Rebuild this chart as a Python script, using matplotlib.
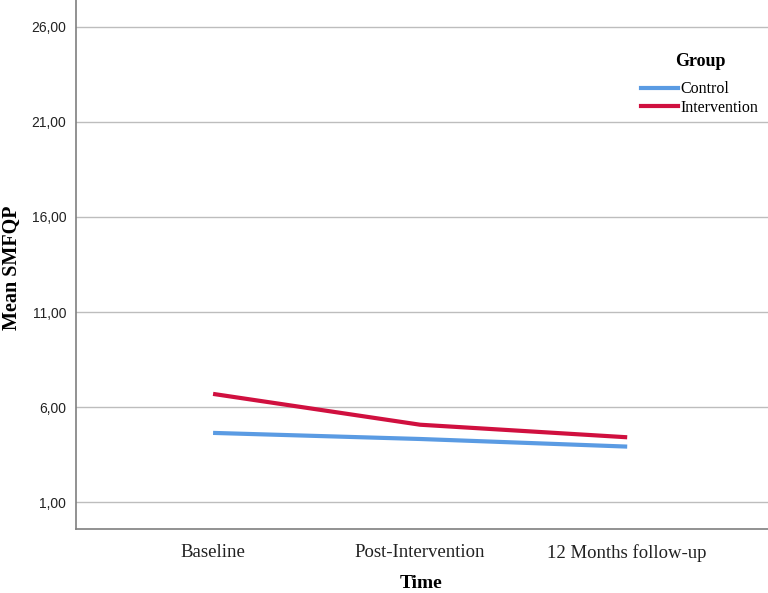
import matplotlib
matplotlib.use("Agg")
import matplotlib.pyplot as plt
from matplotlib.lines import Line2D

categories = ["Baseline", "Post-Intervention", "12 Months follow-up"]
control = [4.65, 4.33, 3.93]
intervention = [6.70, 5.08, 4.42]
yticks = [1, 6, 11, 16, 21, 26]
ytick_labels = ["1,00", "6,00", "11,00", "16,00", "21,00", "26,00"]

blue = "#5A9BE3"
red = "#D0103F"
grid_c = "#BDBDBD"
axis_c = "#7F7F7F"

fig = plt.figure(figsize=(7.68, 5.93), dpi=100)
ax = fig.add_axes([76/768, 64/593, 1 - 76/768, 1 - 64/593])

x = list(range(len(categories)))
ax.plot(x, control, color=blue, lw=3, solid_capstyle="butt", zorder=3)
ax.plot(x, intervention, color=red, lw=3, solid_capstyle="butt", zorder=3)

ax.set_xlim(-0.662, 2.68)
ax.set_ylim(-0.4, 27.4)
ax.set_yticks(yticks)
ax.set_yticklabels(ytick_labels, fontfamily="Liberation Sans", fontsize=10, color="#222222")
ax.set_xticks(x)
ax.set_xticklabels(categories, fontfamily="Liberation Serif", fontsize=13.5, color="#222222")
ax.tick_params(axis="y", length=0, pad=7)
ax.tick_params(axis="x", length=0, pad=11)
ax.grid(axis="y", color=grid_c, lw=1)
ax.set_axisbelow(True)
for s in ["top", "right"]:
    ax.spines[s].set_visible(False)
for s in ["left", "bottom"]:
    ax.spines[s].set_color(axis_c)
    ax.spines[s].set_linewidth(1.2)

fig.text(421/768, 1 - 583/593, "Time", va="center", ha="center",
         fontfamily="Liberation Serif", fontweight="bold", fontsize=14)
fig.text(12/768, 1 - 268/593, "Mean SMFQP", rotation=90, va="center", ha="center",
         fontfamily="Liberation Serif", fontweight="bold", fontsize=14.5)

handles = [Line2D([], [], color=blue, lw=3), Line2D([], [], color=red, lw=3)]
leg = ax.legend(handles, ["Control", "Intervention"], title="Group",
                loc="upper left", bbox_to_anchor=(627/768, 1 - 39/593), bbox_transform=fig.transFigure,
                frameon=False, handlelength=2.3, handletextpad=0.15, labelspacing=0.15,
                prop={"family": "Liberation Serif", "size": 11.5})
leg.get_title().set_fontfamily("Liberation Serif")
leg.get_title().set_fontweight("bold")
leg.get_title().set_fontsize(13)
leg._legend_box.align = "center"
leg._legend_box.sep = 8

fig.savefig("out.png", dpi=100)
